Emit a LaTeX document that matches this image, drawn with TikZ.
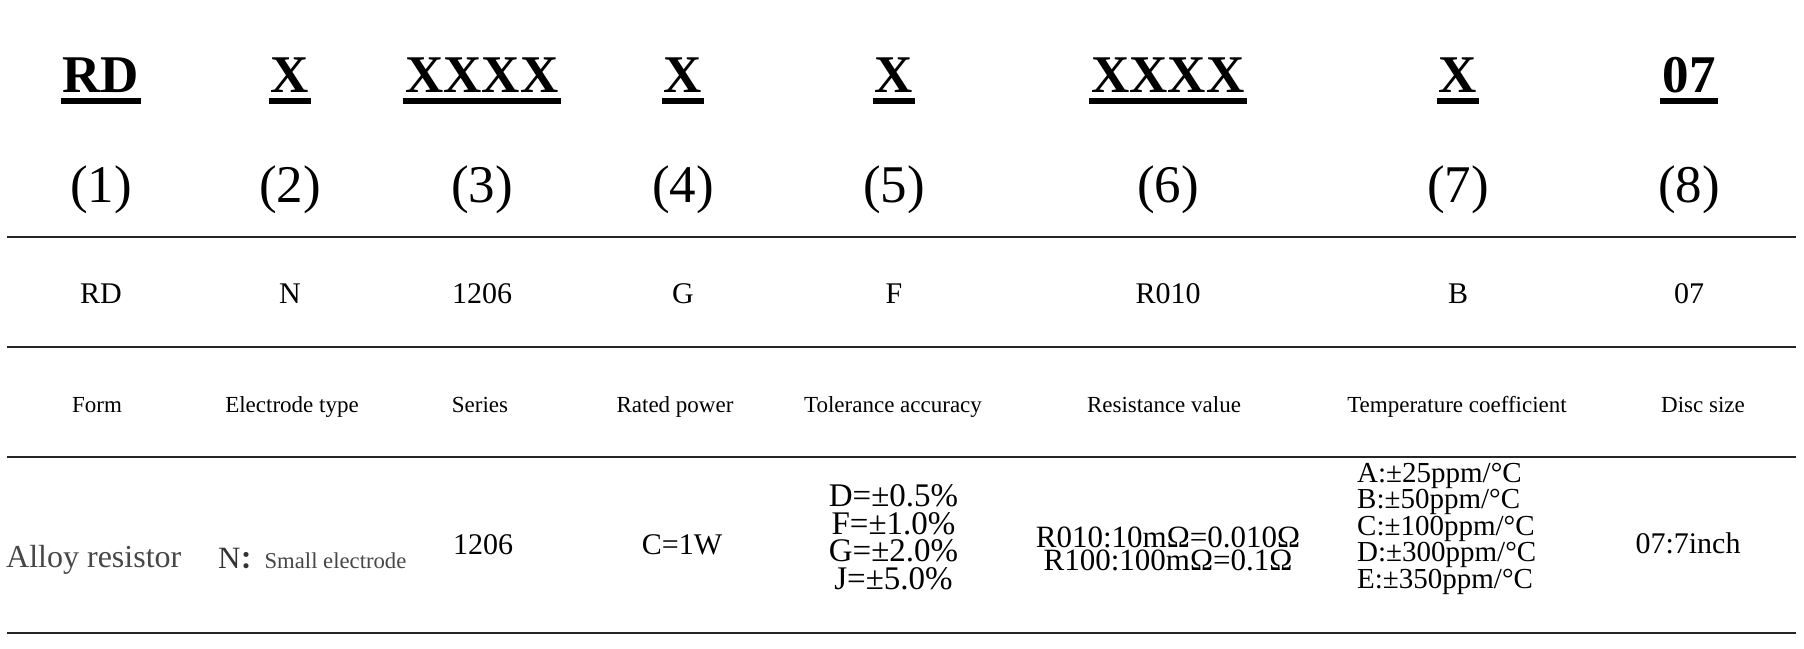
\documentclass[tikz,border=0pt]{standalone}
\usepackage{fontspec}
\setmainfont{Liberation Serif}
\newfontfamily\cjk{Noto Sans CJK SC}
\begin{document}
\begin{tikzpicture}[x=1pt,y=-1pt]
\tikzset{
  txt/.style={inner sep=0pt, anchor=base},
  hdr/.style={txt, font=\fontsize{53}{60}\selectfont\bfseries},
  idx/.style={txt, font=\fontsize{53}{60}\selectfont},
  code/.style={txt, font=\fontsize{30}{36}\selectfont},
  lbl/.style={txt, font=\fontsize{23}{28}\selectfont},
  val/.style={txt, font=\fontsize{30}{36}\selectfont},
  hrule/.style={line width=2pt, black!85},
  uline/.style={line width=5.5pt},
}
\useasboundingbox (0,0) rectangle (1804,648);

% horizontal rules
\coordinate (l1w) at (7,237.3);   \coordinate (l1e) at (1796,237.3);
\coordinate (l2w) at (7,346.7);   \coordinate (l2e) at (1796,346.7);
\coordinate (l3w) at (7,456.7);   \coordinate (l3e) at (1796,456.7);
\coordinate (l4w) at (7,633.3);   \coordinate (l4e) at (1796,633.3);
\draw[hrule] (l1w) -- (l1e);
\draw[hrule] (l2w) -- (l2e);
\draw[hrule] (l3w) -- (l3e);
\draw[hrule] (l4w) -- (l4e);

% row 1: code letters
\node[hdr] (h1) at (101,92.7) {RD};
\node[hdr] (h2) at (290,92.7) {X};
\node[hdr] (h3) at (482,92.7) {XXXX};
\node[hdr] (h4) at (683,92.7) {X};
\node[hdr] (h5) at (894,92.7) {X};
\node[hdr] (h6) at (1168,92.7) {XXXX};
\node[hdr] (h7) at (1458,92.7) {X};
\node[hdr] (h8) at (1689,92.7) {07};
\foreach \n in {1,...,8}{
  \draw[uline] ([xshift=-2pt,yshift=-8.5pt]h\n.base west) -- ([xshift=2pt,yshift=-8.5pt]h\n.base east);
}

% row 2: indices
\node[idx] (i1) at (101,202.7) {(1)};
\node[idx] (i2) at (290,202.7) {(2)};
\node[idx] (i3) at (482,202.7) {(3)};
\node[idx] (i4) at (683,202.7) {(4)};
\node[idx] (i5) at (894,202.7) {(5)};
\node[idx] (i6) at (1168,202.7) {(6)};
\node[idx] (i7) at (1458,202.7) {(7)};
\node[idx] (i8) at (1689,202.7) {(8)};

% row 3: example code
\node[code] (c1) at (101,303) {RD};
\node[code] (c2) at (290,303) {N};
\node[code] (c3) at (482,303) {1206};
\node[code] (c4) at (683,303) {G};
\node[code] (c5) at (894,303) {F};
\node[code] (c6) at (1168,303) {R010};
\node[code] (c7) at (1458,303) {B};
\node[code] (c8) at (1689,303) {07};

% row 4: field names
\node[lbl] (n1) at (97,412) {Form};
\node[lbl] (n2) at (292,412) {Electrode type};
\node[lbl] (n3) at (480,412) {Series};
\node[lbl] (n4) at (675,412) {Rated power};
\node[lbl] (n5) at (893,412) {Tolerance accuracy};
\node[lbl] (n6) at (1164,412) {Resistance value};
\node[lbl] (n7) at (1457,412) {Temperature coefficient};
\node[lbl] (n8) at (1703,412) {Disc size};

% row 5: meanings (multi-line nodes are placed by their last baseline)
\node[txt, anchor=base west, text=black!72, font=\fontsize{32}{36}\selectfont] (v1) at (6,567) {Alloy resistor};
\node[txt, anchor=base west, text=black!80] (v2) at (218,568.3)
  {{\fontsize{31}{36}\selectfont N}{\cjk\bfseries\fontsize{24}{28}\selectfont ：}{\color{black!72}\fontsize{22.7}{26}\selectfont Small electrode}};
\node[val] (v3) at (483,554.3) {1206};
\node[val] (v4) at (682,554) {C=1W};
\node[txt, align=center, font=\fontsize{33}{27.5}\selectfont] (v5) at (893.5,589)
  {D=±0.5\%\\F=±1.0\%\\G=±2.0\%\\J=±5.0\%};
\node[txt, align=center, font=\fontsize{31}{20}\selectfont] (v6) at (1168,570)
  {R010:10mΩ=0.010Ω\\R100:100mΩ=0.1Ω};
\node[txt, anchor=base west, align=left, font=\fontsize{29}{22.75}\selectfont] (v7) at (1357,588.3)
  {A:±25ppm/°C\\B:±50ppm/°C\\C:±100ppm/°C\\D:±300ppm/°C\\E:±350ppm/°C};
\node[val] (v8) at (1688,553.3) {07:7inch};
\end{tikzpicture}
\end{document}
